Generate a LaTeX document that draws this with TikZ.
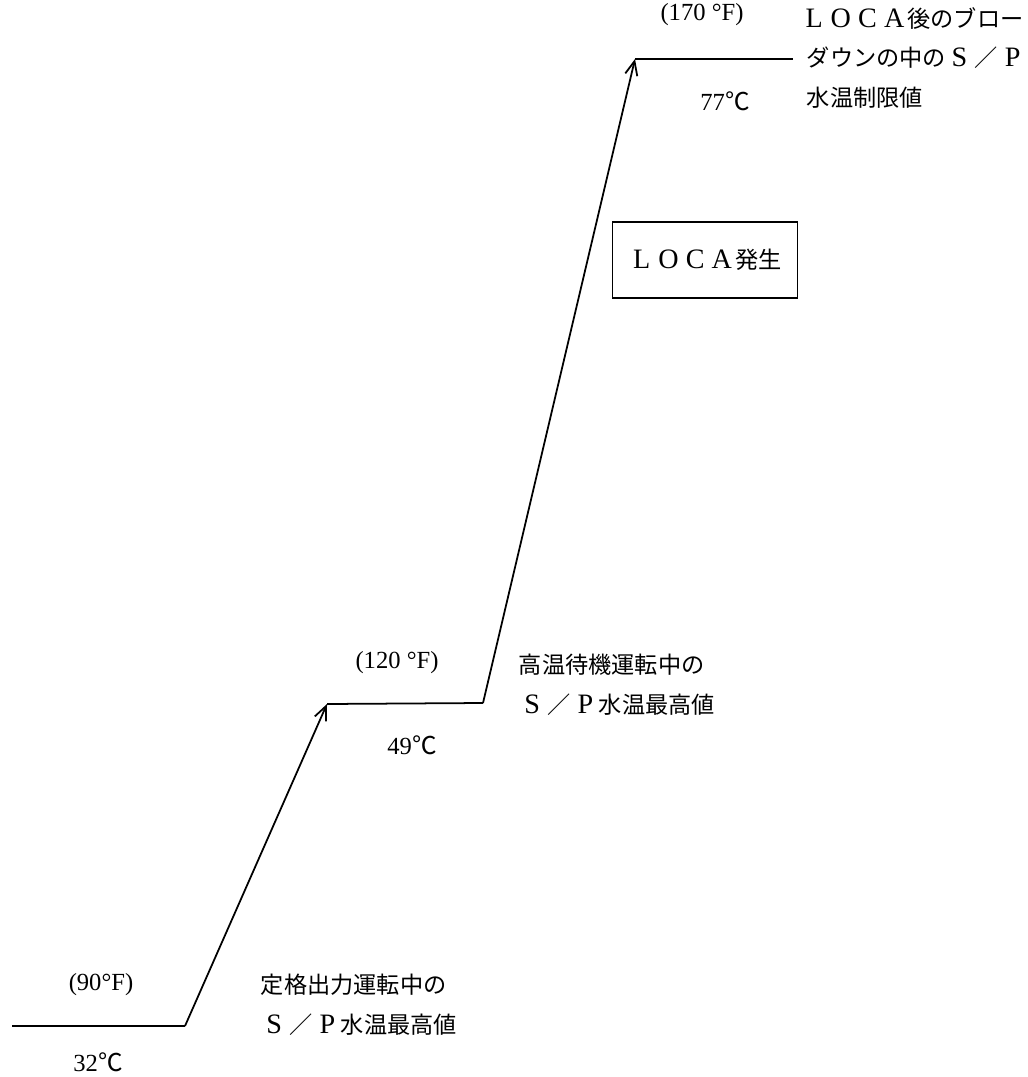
\documentclass[tikz,border=0pt]{standalone}
\usepackage{fontspec}
\usetikzlibrary{arrows.meta}
\setmainfont{Liberation Serif}
\newfontfamily\jp{Noto Sans CJK JP}
% full-width cells
\newcommand\fw[1]{\makebox[1.15em]{#1}}
\newcommand\fwl[1]{\makebox[1.15em]{\rmfamily\fontsize{16}{16}\selectfont #1}}
\begin{document}
\begin{tikzpicture}[
		x=0.02cm,y=-0.02cm,
		every node/.style={inner sep=0pt,font=\fontsize{14}{15}\selectfont},
		jptext/.style={anchor=west,font=\jp\fontsize{13.2}{14}\selectfont},
		line width=1pt
	]
	\useasboundingbox (0,0) rectangle (1027,1077);
	% corners of the temperature steps
	\coordinate (a0) at (12,1026);
	\coordinate (a1) at (185,1026);
	\coordinate (b0) at (327,704);
	\coordinate (b1) at (483,703);
	\coordinate (c0) at (635,59);
	\coordinate (c1) at (793,59);
	\draw (a0) -- (a1);
	\draw[-{Straight Barb[length=8pt,width=7pt]}] (a1) -- (b0);
	\draw (b0) -- (b1);
	\draw[-{Straight Barb[length=8pt,width=7pt]}] (b1) -- (c0);
	\draw (c0) -- (c1);
	% temperatures
	\node (f90) at (101,985) {(90°F)};
	\node (c32) at (98,1062) {32{\jp ℃}};
	\node (f120) at (397,663) {(120 °F)};
	\node (c49) at (412,745) {49{\jp ℃}};
	\node (f170) at (702,15) {(170 °F)};
	\node (c77) at (725,101) {77{\jp ℃}};
	% descriptions
	\node[jptext] (rated1) at (260,985) {定格出力運転中の};
	\node[jptext] (rated2) at (260,1025) {\fwl{S}\fw{／}\fwl{P}水温最高値};
	\node[jptext] (hot1) at (518,665) {高温待機運転中の};
	\node[jptext] (hot2) at (518,705) {\fwl{S}\fw{／}\fwl{P}水温最高値};
	\node[jptext] (limit1) at (800,19) {\fwl{L}\fwl{O}\fwl{C}\fwl{A}後のブロー};
	\node[jptext] (limit2) at (806,58) {ダウンの中の\fwl{S}\fw{／}\fwl{P}};
	\node[jptext] (limit3) at (806,98) {水温制限値};
	\node[draw,line width=0.8pt,minimum width=3.7cm,minimum height=1.52cm,
		font=\jp\fontsize{13.2}{14}\selectfont] (loca) at (705,260)
		{\fwl{L}\fwl{O}\fwl{C}\fwl{A}発生};
\end{tikzpicture}
\end{document}
